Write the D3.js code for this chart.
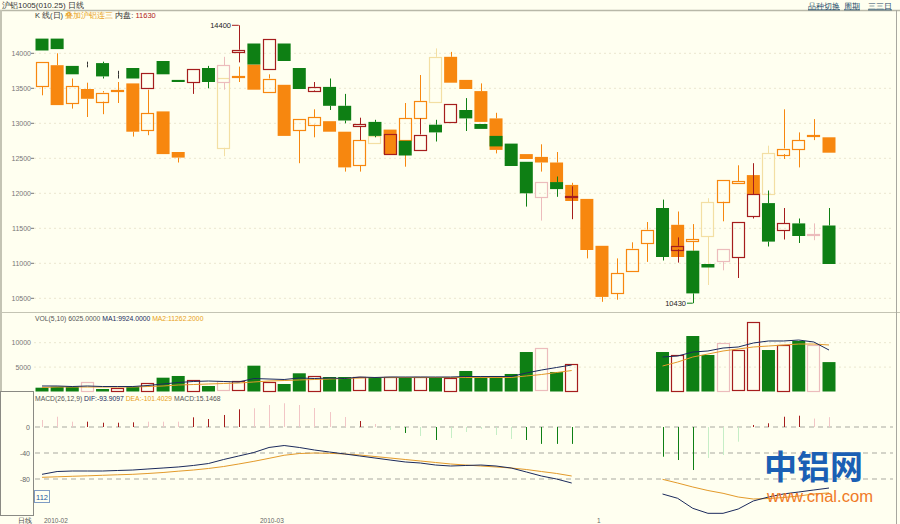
<!DOCTYPE html>
<html><head><meta charset="utf-8">
<script src="https://cdn.jsdelivr.net/npm/d3@7"></script>
<style>
body{margin:0;background:#fffff0;}
svg{display:block;font-family:"Liberation Sans",Arial,sans-serif;}
</style></head><body>
<svg id="c" width="900" height="524"></svg>
<script>
// ---------- DATA ----------
const N = 53;
const priceTicks = [14000,13500,13000,12500,12000,11500,11000,10500];
const volTicks = [10000,5000];
const macdTicks = [0,-40,-80];
// main series (green = down, red hollow = up)
const mainOpen  = [14210,14210,13820,13840,13860,13700,13790,13500,13890,13620,13590,13790,13590,14020,14140,13770,14140,13790,13470,13520,13250,12960,13020,12560,12750,12620,12980,13010,13190,12990,12820,12710,12450,11940,12160,11950,null,null,null,null,null,11790,11200,11180,10990,11030,11090,11670,11860,11470,11570,11410,11540];
const mainHigh  = [14210,14210,13820,13880,13880,13750,13790,13720,13890,13620,13770,13820,13950,14400,14140,14200,14140,13790,13590,13640,13420,13080,13050,12850,12750,13070,13050,13270,13360,12990,12820,12710,12450,12160,12240,12100,null,null,null,null,null,11910,11370,11180,10990,11200,11590,12430,12040,11790,11640,11570,11790];
const mainLow   = [14040,14060,13700,13800,13640,13640,13640,13500,13700,13590,13420,13500,13480,13870,13840,13770,13890,13490,13450,13190,13000,12760,12800,12560,12540,12620,12740,13010,12890,12920,12670,12390,11810,11610,11950,11630,null,null,null,null,null,11040,11010,10430,10940,10900,10790,11640,11240,11340,11290,11330,10990];
const mainClose = [14040,14060,13700,13840,13670,13700,13640,13720,13700,13590,13770,13590,13830,14050,13840,14200,13890,13490,13520,13250,13040,12990,12820,12850,12540,12840,12870,13270,13070,12920,12670,12390,12000,12160,12060,11960,null,null,null,null,null,11090,11250,10570,10940,11200,11590,11990,11310,11570,11390,11420,10990];
const mainFaint = [3,12,33,45,51];
// overlay series (orange filled = down, orange hollow = up)
const ovOpen  = [13520,13830,13290,13490,13310,13450,13570,12900,13170,12590,null,null,12650,13650,13840,13450,13550,12900,12980,13030,12880,12400,12720,12910,12750,13070,13310,13950,13620,13460,13070,null,12560,12520,12440,12120,11920,11250,10570,10900,11290,null,11550,11320,11390,11880,12150,12260,11980,12560,12630,12810,12800];
const ovHigh  = [13870,14000,13640,13580,13460,13590,13570,13480,13170,12590,null,null,13650,13810,13840,13700,13550,13060,13200,13030,12880,12760,12820,12910,13290,13690,14070,14020,13620,13570,13150,null,12560,12700,12590,12150,11920,11250,11070,11300,11590,null,11740,11560,11930,12190,12400,12260,12680,13200,12870,13060,12800];
const ovLow   = [13400,13260,13210,13090,13130,13290,12810,12830,12560,12440,null,null,12530,13590,13480,13450,12820,12430,12800,12880,12310,12310,12720,12560,12380,13070,13310,13580,13490,13020,12570,null,12490,12310,12150,11890,11070,10450,10480,10900,11020,null,11090,11180,10690,11600,12150,11990,11980,12490,12370,12760,12580];
const ovClose = [13870,13260,13530,13350,13440,13470,12880,13140,12560,12510,null,null,13650,13670,13480,13640,12820,13060,13090,12880,12370,12760,12820,12560,13070,13320,13950,13580,13490,13020,12620,null,12490,12440,12150,11890,11190,10520,10860,11210,11480,null,11090,11345,11870,12190,12175,11990,12570,12640,12760,12830,12580];
const ovFaint = [12,22,26,44,48];
// volume and its moving averages
const volume = [780,980,980,2000,510,780,980,1800,2830,3180,2360,1130,2150,2150,5290,2000,1540,3730,3180,2970,2970,2970,2970,2970,2970,2970,2970,2770,4200,2970,3180,3590,8090,8910,4000,5640,null,null,null,null,null,8090,7480,11370,7480,9940,8500,14240,8500,9530,10350,9530,6025];
const volMA1 = [1130,1130,1020,1130,1020,1020,1020,1230,1540,1840,2050,2150,2050,1950,2660,2560,2460,2770,2660,2770,2660,2970,2870,2970,2970,2970,2970,2970,3070,3070,3070,3070,3790,4400,4920,5430,null,null,null,null,null,7070,7270,8090,8300,8910,9120,9940,10350,10350,10550,10140,8500];
const volMA2 = [820,920,920,920,920,920,920,1020,1130,1330,1430,1540,1640,1740,1950,2150,2250,2360,2460,2560,2660,2770,2870,2870,2870,2870,2870,2870,2870,2870,2870,2870,3180,3480,3890,4300,null,null,null,null,null,5220,6040,7070,7680,8300,8710,9120,9320,9530,9730,9730,9530];
// MACD
const dif = [-72.8,-68.5,-67.7,-67.7,-67.7,-66.9,-66.2,-64.6,-63.1,-61.5,-59.2,-56.2,-50,-44.6,-39.2,-31.5,-28.5,-31.5,-35.4,-38.5,-41.5,-44.6,-47.7,-50.8,-53.8,-55.4,-58.5,-60,-59.2,-58.5,-60,-63.1,-69.2,-75.4,-80,-86.2,null,null,null,null,null,-103.1,-109.7,-125.1,-132.8,-132.8,-126.2,-113.8,-107.7,-103,-100,-96.9,-93.9];
const dea = [-77.4,-76.6,-75.8,-75.1,-74.3,-73.5,-72.8,-71.5,-70,-68,-66.2,-63.8,-60.8,-56.9,-52.8,-48.2,-43.5,-40.8,-40,-40.5,-41.5,-43.1,-45.4,-47.7,-50,-52.3,-54.6,-56.9,-58.5,-60,-61.5,-63.1,-65.4,-68.5,-71.5,-75.4,null,null,null,null,null,-80.5,-86.2,-92.3,-97.7,-102,-107.7,-110.8,-110,-108.5,-106.2,-103.1,-101.4];
const macd = [10.8,15.8,8.2,8.2,6.6,6.6,7.2,8.2,8.2,8.2,14.9,12.3,18.5,27.2,28.8,33.8,36.5,33.8,29.2,23,15.4,9.2,4.6,-4.6,-9.2,-13.8,-20,-16.9,-7.7,-3,-12.3,-18.5,-20,-26,-26,-26,null,null,null,null,null,-45.7,-50.8,-66.2,-47.7,-43.1,-22.6,3.1,5.7,15.8,17.4,13,15.1];
const macdFaint = [0,1,2,7,8,9,14,15,16,17,18,19,20,22,23,25,27,28,29,30,31,44,45,46,51,52];

// ---------- CHART ----------
const svg = d3.select("#c");
const BG = "#fffff0", GREEN = "#0e7f14", RED = "#a51d1d", ORANGE = "#f7870f",
      NAVY = "#1b2a5c", FAINT_RED = "#ecbcbc", FAINT_OR = "#f3dfa3";
svg.append("rect").attr("width",900).attr("height",524).attr("fill",BG);

const x = d3.scaleLinear().domain([0, N-1]).range([42, 829]);
const y = d3.scaleLinear().domain([10500, 14000]).range([298.3, 53.3]);
const yv = d3.scaleLinear().domain([0, 10000]).range([391.5, 342.7]);
const ym = d3.scaleLinear().domain([-80, 0]).range([479, 427]);
const BW = 13;

// frame lines
svg.append("line").attr("x1",0).attr("x2",900).attr("y1",10.5).attr("y2",10.5).attr("stroke","#b8b8a8").attr("stroke-width",1.5);
svg.append("line").attr("x1",0).attr("x2",900).attr("y1",312.5).attr("y2",312.5).attr("stroke","#c4c4b4");
svg.append("line").attr("x1",1).attr("x2",1).attr("y1",10).attr("y2",392).attr("stroke","#c4c4b4").attr("stroke-width",2);
svg.append("line").attr("x1",896.5).attr("x2",896.5).attr("y1",10).attr("y2",524).attr("stroke","#a8a8a0");
// left box in macd area
svg.append("rect").attr("x",0.5).attr("y",391.5).attr("width",33).attr("height",124).attr("fill","none").attr("stroke","#8a8a84");

// title texts
svg.append("text").attr("x",2).attr("y",8).attr("font-size",8).attr("fill","#333").text("沪铝1005(010.25) 日线");
const t2 = svg.append("text").attr("x",35).attr("y",17.5).attr("font-size",7.5);
t2.append("tspan").attr("fill","#333").text("K 线(日) ");
t2.append("tspan").attr("fill","#e8a020").text("叠加沪铝连三 ");
t2.append("tspan").attr("fill","#333").text("内盘: ");
t2.append("tspan").attr("fill","#b02020").text("11630");
[["品种切换",808],["周期",844],["三三日",868]].forEach(([s,xx])=>{
  svg.append("text").attr("x",xx).attr("y",8.5).attr("font-size",8).attr("fill","#1e4a68")
    .attr("text-decoration","underline").text(s);
});

// price grid + labels
priceTicks.forEach(v=>{
  svg.append("line").attr("x1",34).attr("x2",893).attr("y1",y(v)).attr("y2",y(v))
    .attr("stroke","#ebe7cf").attr("stroke-dasharray","2,3");
  svg.append("line").attr("x1",31).attr("x2",34).attr("y1",y(v)).attr("y2",y(v)).attr("stroke","#777");
  svg.append("text").attr("x",31).attr("y",y(v)+2.5).attr("text-anchor","end").attr("font-size",7).attr("fill","#777").text(v);
});

function candles(O,H,L,C,faint,upC,dnC,fUp,fDn){
  const g = svg.append("g");
  d3.range(N).forEach(i=>{
    if (O[i]==null) return;
    const o=O[i],c=C[i],h=H[i],l=L[i];
    const up = c>=o;
    const isF = faint.includes(i);
    let col = up ? upC : dnC;
    if (isF) col = up ? fUp : fDn;
    const doji = (o===c && upC===RED);
    if (doji) col = "#333";
    const top = y(Math.max(o,c)), bot = y(Math.min(o,c));
    const cx = Math.round(x(i))+0.5;
    g.append("line").attr("x1",cx).attr("x2",cx).attr("y1",y(h)).attr("y2",top).attr("stroke",col);
    g.append("line").attr("x1",cx).attr("x2",cx).attr("y1",bot).attr("y2",y(l)).attr("stroke",col);
    if (doji) return;
    const hgt = Math.max(1, bot-top);
    if (up) {
      g.append("rect").attr("x",Math.round(x(i)-BW/2)+0.5).attr("y",Math.round(top)+0.5).attr("width",BW-1).attr("height",Math.max(0.01,Math.round(hgt)))
        .attr("fill","none").attr("stroke",col).attr("stroke-width",1.2);
    } else {
      g.append("rect").attr("x",x(i)-BW/2).attr("y",top).attr("width",BW).attr("height",hgt).attr("fill",col);
    }
  });
}
candles(ovOpen,ovHigh,ovLow,ovClose,ovFaint,ORANGE,ORANGE,FAINT_OR,"#f6c98a");
candles(mainOpen,mainHigh,mainLow,mainClose,mainFaint,RED,GREEN,FAINT_RED,"#9fd49f");

// high / low markers
const hiIdx = 13, loIdx = 43;
svg.append("line").attr("x1",232).attr("x2",x(hiIdx)).attr("y1",y(mainHigh[hiIdx])).attr("y2",y(mainHigh[hiIdx])).attr("stroke",RED);
svg.append("text").attr("x",231).attr("y",y(mainHigh[hiIdx])+2.5).attr("text-anchor","end").attr("font-size",7.5).attr("fill","#222").text(mainHigh[hiIdx]);
svg.append("line").attr("x1",687).attr("x2",x(loIdx)).attr("y1",y(mainLow[loIdx])).attr("y2",y(mainLow[loIdx])).attr("stroke",GREEN);
svg.append("text").attr("x",686).attr("y",y(mainLow[loIdx])+2.5).attr("text-anchor","end").attr("font-size",7.5).attr("fill","#222").text(mainLow[loIdx]);

// volume panel
const tv = svg.append("text").attr("x",35).attr("y",321).attr("font-size",6.8);
tv.append("tspan").attr("fill","#555").text("VOL(5,10) 6025.0000 ");
tv.append("tspan").attr("fill",NAVY).text("MA1:9924.0000 ");
tv.append("tspan").attr("fill","#e8a020").text("MA2:11262.2000");
volTicks.forEach(v=>{
  svg.append("line").attr("x1",34).attr("x2",893).attr("y1",yv(v)).attr("y2",yv(v))
    .attr("stroke","#ebe7cf").attr("stroke-dasharray","2,3");
  svg.append("text").attr("x",31).attr("y",yv(v)+2.5).attr("text-anchor","end").attr("font-size",7).attr("fill","#777").text(v);
});
d3.range(N).forEach(i=>{
  if (volume[i]==null) return;
  const up = mainClose[i]>=mainOpen[i];
  const isF = mainFaint.includes(i);
  const top = yv(volume[i]), bot = yv(0);
  if (up) {
    svg.append("rect").attr("x",Math.round(x(i)-BW/2)+0.5).attr("y",Math.round(top)+0.5).attr("width",BW-1).attr("height",Math.round(bot-top)-1)
      .attr("fill","none").attr("stroke",isF?FAINT_RED:RED).attr("stroke-width",1.2);
  } else {
    svg.append("rect").attr("x",x(i)-BW/2).attr("y",top).attr("width",BW).attr("height",bot-top).attr("fill",GREEN);
  }
});
const lineV = d3.line().defined(d=>d[1]!=null).x(d=>x(d[0])).y(d=>yv(d[1]));
svg.append("path").attr("d",lineV(volMA2.map((v,i)=>[i,v]))).attr("fill","none").attr("stroke","#e39a2a").attr("stroke-width",1);
svg.append("path").attr("d",lineV(volMA1.map((v,i)=>[i,v]))).attr("fill","none").attr("stroke",NAVY).attr("stroke-width",1);

// MACD panel
const tm = svg.append("text").attr("x",35).attr("y",400.5).attr("font-size",6.8);
tm.append("tspan").attr("fill","#555").text("MACD(26,12,9) ");
tm.append("tspan").attr("fill",NAVY).text("DIF:-93.9097 ");
tm.append("tspan").attr("fill","#e8a020").text("DEA:-101.4029 ");
tm.append("tspan").attr("fill","#555").text("MACD:15.1468");
macdTicks.forEach(v=>{
  svg.append("line").attr("x1",35).attr("x2",893).attr("y1",ym(v)).attr("y2",ym(v))
    .attr("stroke","#a9a9a0").attr("stroke-dasharray","5,4");
  svg.append("text").attr("x",30).attr("y",ym(v)+2.5).attr("text-anchor","end").attr("font-size",7).attr("fill","#666").text(v);
});
d3.range(N).forEach(i=>{
  if (macd[i]==null) return;
  const pos = macd[i]>=0, f = macdFaint.includes(i);
  const col = pos ? (f?"#f2c6c6":RED) : (f?"#c6eec6":GREEN);
  const cx = Math.round(x(i))+0.5;
  svg.append("line").attr("x1",cx).attr("x2",cx).attr("y1",ym(0)).attr("y2",ym(macd[i])).attr("stroke",col);
});
const lineM = d3.line().defined(d=>d[1]!=null).x(d=>x(d[0])).y(d=>ym(d[1]));
svg.append("path").attr("d",lineM(dea.map((v,i)=>[i,v]))).attr("fill","none").attr("stroke","#e39a2a");
svg.append("path").attr("d",lineM(dif.map((v,i)=>[i,v]))).attr("fill","none").attr("stroke",NAVY);

// small "112" box
svg.append("rect").attr("x",34.5).attr("y",490.5).attr("width",15).attr("height",12).attr("fill","#fffff0").attr("stroke","#7f9cc4");
svg.append("text").attr("x",42).attr("y",499.5).attr("text-anchor","middle").attr("font-size",7.5).attr("fill","#2456a0").text("112");

// bottom labels
svg.append("text").attr("x",18).attr("y",523).attr("font-size",7).attr("fill","#444").text("日线");
svg.append("text").attr("x",44).attr("y",523).attr("font-size",6.5).attr("fill","#666").text("2010-02");
svg.append("text").attr("x",260).attr("y",523).attr("font-size",6.5).attr("fill","#666").text("2010-03");
svg.append("text").attr("x",597).attr("y",523).attr("font-size",6.5).attr("fill","#666").text("1");

// watermark
svg.append("text").attr("x",764).attr("y",479).attr("font-size",33).attr("font-weight","bold")
  .attr("font-family","'Noto Sans CJK SC',sans-serif").attr("fill","#1a5fb4").text("中铝网");
svg.append("text").attr("x",767).attr("y",502).attr("font-size",16).attr("fill","#f07a26")
  .attr("textLength",106).attr("lengthAdjust","spacingAndGlyphs").text("www.cnal.com");
</script>
</body></html>
